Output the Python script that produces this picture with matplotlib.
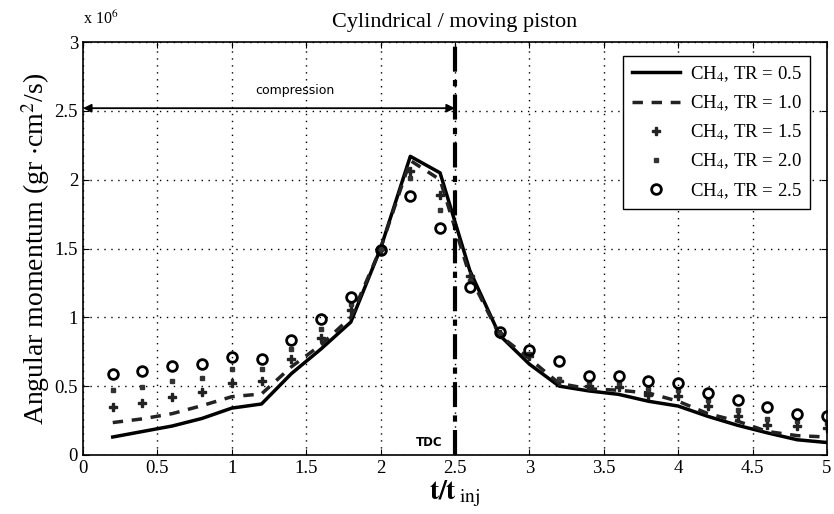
import matplotlib
matplotlib.use("Agg")
import matplotlib.pyplot as plt

# time axis, t/t_inj
t = [0.2, 0.4, 0.6, 0.8, 1.0, 1.2, 1.4, 1.6, 1.8, 2.0, 2.2, 2.4, 2.6,
     2.8, 3.0, 3.2, 3.4, 3.6, 3.8, 4.0, 4.2, 4.4, 4.6, 4.8, 5.0]

# angular momentum, units of 1e6 gr cm^2/s
tr05 = [0.13, 0.17, 0.21, 0.265, 0.34, 0.37, 0.59, 0.77, 0.965, 1.5, 2.17, 2.05, 1.34,
        0.87, 0.66, 0.50, 0.465, 0.44, 0.39, 0.355, 0.28, 0.215, 0.16, 0.11, 0.09]
tr10 = [0.235, 0.262, 0.30, 0.358, 0.423, 0.443, 0.64, 0.80, 1.0, 1.5, 2.14, 2.0, 1.30,
        0.87, 0.70, 0.52, 0.48, 0.47, 0.45, 0.39, 0.30, 0.245, 0.17, 0.14, 0.13]
tr15 = [0.346, 0.38, 0.423, 0.46, 0.524, 0.536, 0.70, 0.85, 1.05, 1.5, 2.06, 1.89, 1.30,
        0.88, 0.72, 0.54, 0.50, 0.49, 0.435, 0.428, 0.356, 0.28, 0.22, 0.21, 0.197]
tr20 = [0.47, 0.495, 0.536, 0.558, 0.623, 0.625, 0.77, 0.917, 1.097, 1.5, 2.01, 1.78, 1.265,
        0.88, 0.73, 0.55, 0.53, 0.52, 0.476, 0.47, 0.40, 0.327, 0.26, 0.243, 0.23]
tr25 = [0.587, 0.61, 0.645, 0.657, 0.712, 0.70, 0.832, 0.99, 1.15, 1.49, 1.885, 1.646, 1.217,
        0.89, 0.76, 0.68, 0.573, 0.573, 0.536, 0.52, 0.448, 0.40, 0.346, 0.296, 0.28]

labels = ["CH$_4$, TR = 0.5", "CH$_4$, TR = 1.0", "CH$_4$, TR = 1.5",
          "CH$_4$, TR = 2.0", "CH$_4$, TR = 2.5"]

t_tdc = 2.5

plt.rcParams['font.family'] = ['Liberation Serif', 'DejaVu Serif']
plt.rcParams['mathtext.fontset'] = 'stix'

fig = plt.figure(figsize=(8.34, 5.14), dpi=100)
ax = fig.add_axes([0.0995, 0.115, 0.892, 0.803])

ax.plot(t, tr05, '-', color='black', lw=2.5, label=labels[0])
ax.plot(t, tr10, '--', color='#222222', lw=2.5, dashes=(3, 2.5), label=labels[1])
ax.plot(t, tr15, 'P', color='#222222', ms=5.5, ls='none', label=labels[2])
ax.plot(t, tr20, 's', color='#333333', ms=3.5, ls='none', label=labels[3])
ax.plot(t, tr25, 'o', mfc='none', mec='black', mew=2, ms=7, ls='none', label=labels[4])

# TDC marker
ax.axvline(t_tdc, color='black', lw=3, ls=(0, (6, 2, 1.5, 2)))
ax.text(2.33, 0.09, 'TDC', family='DejaVu Sans', fontsize=8.5, fontweight='bold',
        ha='center', va='center')

# compression arrow
ax.annotate('', xy=(0, 2.52), xytext=(t_tdc, 2.52),
            arrowprops=dict(arrowstyle='<|-|>', color='black', lw=1.3,
                            mutation_scale=12, shrinkA=0, shrinkB=0))
ax.text(1.425, 2.65, 'compression', family='DejaVu Sans', fontsize=9,
        ha='center', va='center')

ax.set_xlim(0, 5)
ax.set_ylim(0, 3)
ax.set_xticks([0, 0.5, 1, 1.5, 2, 2.5, 3, 3.5, 4, 4.5, 5])
ax.set_xticklabels(['0', '0.5', '1', '1.5', '2', '2.5', '3', '3.5', '4', '4.5', '5'])
ax.set_yticks([0, 0.5, 1, 1.5, 2, 2.5, 3])
ax.set_yticklabels(['0', '0.5', '1', '1.5', '2', '2.5', '3'])
ax.tick_params(direction='in', top=True, right=True, labelsize=13.5, length=4)
ax.grid(True, color='black', ls=(0, (1, 4)), lw=1.0)
for s in ax.spines.values():
    s.set_linewidth(1.2)

ax.text(0, 1.035, 'x 10$^6$', transform=ax.transAxes, fontsize=11.5, ha='left', va='bottom')
ax.set_title('Cylindrical / moving piston', fontsize=16, pad=11)
ax.set_ylabel('Angular momentum (gr $\\cdot$cm$^2$/s)', fontsize=20, labelpad=2)
ax.set_xlabel('$\\mathbf{t/t}_{\\;\\mathrm{inj}}$', fontsize=20, labelpad=1)

ax.legend(loc='upper right', fontsize=13.5, frameon=True, fancybox=False,
          edgecolor='black', framealpha=1, handlelength=2.6, borderpad=0.45,
          labelspacing=0.5, handletextpad=0.5, bbox_to_anchor=(0.99, 0.99))

fig.savefig('out.png', dpi=100)
